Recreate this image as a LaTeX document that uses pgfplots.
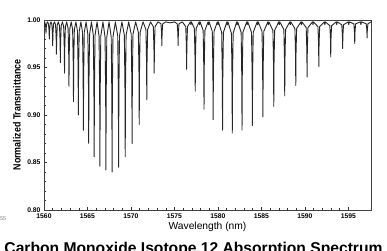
\documentclass[border=0pt]{standalone}
\usepackage{fontspec}
\setmainfont{Liberation Sans}
\usepackage{graphicx}
\usepackage{pgfplots}
\pgfplotsset{compat=1.18}
\begin{document}
\begin{tikzpicture}
\useasboundingbox (0bp,0bp) rectangle (387bp,251bp);
\clip (0bp,0bp) rectangle (387bp,251bp);
\begin{axis}[
  name=ax,
  at={(44bp,41bp)}, anchor=south west,
  scale only axis, width=327bp, height=190bp,
  xmin=1560, xmax=1597.6, ymin=0.80, ymax=1.00,
  xtick={1560,1565,1570,1575,1580,1585,1590,1595},
  ytick={0.80,0.85,0.90,0.95,1.00},
  minor x tick num=4, minor y tick num=4,
  tick align=inside, xtick pos=bottom, ytick pos=left,
  major tick length=3bp, minor tick length=1.6bp,
  axis line style={black!75, line width=0.6pt},
  every tick/.style={black!80, line width=0.5pt},
  /pgf/number format/assume math mode=true,
  x tick label style={/pgf/number format/set thousands separator={}, font=\fontsize{6.8}{7}\selectfont\bfseries},
  y tick label style={/pgf/number format/fixed, /pgf/number format/fixed zerofill, /pgf/number format/precision=2, font=\fontsize{6.8}{7}\selectfont\bfseries},
  xlabel={Wavelength (nm)},
  xlabel style={at={(axis description cs:0.5,-0.1026)}, anchor=base, font=\fontsize{10.3}{12}\selectfont},
  ylabel={\scalebox{0.85}[1]{Normalized Transmittance}},
  ylabel style={at={(axis description cs:-0.0826,0.5)}, anchor=center, font=\fontsize{10.5}{12}\selectfont\bfseries},
]
\addplot[black!85, line width=0.9pt, line join=round] coordinates {
(1560.00,0.993) (1560.05,0.997)
(1560.13,0.997) (1560.20,0.992) (1560.23,0.986) (1560.26,0.992) (1560.33,0.997)
(1560.42,0.998)
(1560.51,0.996) (1560.58,0.989) (1560.61,0.980) (1560.64,0.989) (1560.71,0.996)
(1560.80,0.998)
(1560.90,0.996) (1560.97,0.986) (1561.00,0.973) (1561.03,0.986) (1561.10,0.996)
(1561.21,0.998)
(1561.33,0.995) (1561.40,0.981) (1561.43,0.964) (1561.46,0.981) (1561.53,0.995)
(1561.65,0.998)
(1561.78,0.994) (1561.85,0.977) (1561.88,0.955) (1561.91,0.977) (1561.98,0.994)
(1562.12,0.998)
(1562.26,0.993) (1562.33,0.971) (1562.36,0.944) (1562.39,0.971) (1562.46,0.993)
(1562.61,0.998)
(1562.77,0.991) (1562.84,0.964) (1562.87,0.930) (1562.90,0.964) (1562.97,0.991)
(1563.13,0.998)
(1563.29,0.990) (1563.36,0.956) (1563.39,0.914) (1563.42,0.956) (1563.49,0.990)
(1563.67,0.998)
(1563.85,0.988) (1563.92,0.949) (1563.95,0.900) (1563.98,0.949) (1564.05,0.988)
(1564.24,0.998)
(1564.43,0.987) (1564.50,0.941) (1564.53,0.884) (1564.56,0.941) (1564.63,0.987)
(1564.84,0.998)
(1565.04,0.985) (1565.11,0.934) (1565.14,0.870) (1565.17,0.934) (1565.24,0.985)
(1565.46,0.998)
(1565.67,0.984) (1565.74,0.927) (1565.77,0.856) (1565.80,0.927) (1565.87,0.984)
(1566.10,0.998)
(1566.33,0.983) (1566.40,0.922) (1566.43,0.846) (1566.46,0.922) (1566.53,0.983)
(1566.78,0.998)
(1567.02,0.982) (1567.09,0.920) (1567.12,0.842) (1567.15,0.920) (1567.22,0.982)
(1567.48,0.998)
(1567.73,0.982) (1567.80,0.919) (1567.83,0.840) (1567.86,0.919) (1567.93,0.982)
(1568.21,0.998)
(1568.48,0.983) (1568.55,0.922) (1568.58,0.845) (1568.61,0.922) (1568.68,0.983)
(1568.96,0.998)
(1569.24,0.984) (1569.31,0.927) (1569.34,0.856) (1569.37,0.927) (1569.44,0.984)
(1569.74,0.998)
(1570.03,0.985) (1570.10,0.934) (1570.13,0.870) (1570.16,0.934) (1570.23,0.985)
(1570.54,0.998)
(1570.85,0.987) (1570.92,0.944) (1570.95,0.890) (1570.98,0.944) (1571.05,0.987)
(1571.39,0.998)
(1571.72,0.990) (1571.79,0.957) (1571.82,0.916) (1571.85,0.957) (1571.92,0.990)
(1572.25,0.998)
(1572.57,0.993) (1572.64,0.971) (1572.67,0.944) (1572.70,0.971) (1572.77,0.993)
(1573.11,0.998)
(1573.45,0.996) (1573.52,0.986) (1573.55,0.973) (1573.58,0.986) (1573.65,0.996)
(1574.00,0.998) (1574.50,0.997) (1575.00,0.998)
(1575.32,0.996) (1575.39,0.986) (1575.42,0.973) (1575.45,0.986) (1575.52,0.996)
(1575.91,0.998)
(1576.30,0.993) (1576.37,0.973) (1576.40,0.948) (1576.43,0.973) (1576.50,0.993)
(1576.84,0.998) (1576.90,0.995) (1576.96,0.998)
(1577.29,0.991) (1577.36,0.962) (1577.39,0.925) (1577.42,0.962) (1577.49,0.991)
(1577.84,0.998) (1577.90,0.995) (1577.96,0.998)
(1578.30,0.989) (1578.37,0.952) (1578.40,0.906) (1578.43,0.952) (1578.50,0.989)
(1578.87,0.998) (1578.93,0.995) (1578.99,0.998)
(1579.35,0.988) (1579.42,0.947) (1579.45,0.895) (1579.48,0.947) (1579.55,0.988)
(1579.93,0.998) (1579.99,0.995) (1580.05,0.998)
(1580.43,0.987) (1580.50,0.941) (1580.53,0.884) (1580.56,0.941) (1580.63,0.987)
(1581.03,0.998) (1581.09,0.995) (1581.15,0.998)
(1581.55,0.986) (1581.62,0.940) (1581.65,0.881) (1581.68,0.940) (1581.75,0.986)
(1582.15,0.998) (1582.21,0.995) (1582.27,0.998)
(1582.67,0.987) (1582.74,0.941) (1582.77,0.884) (1582.80,0.941) (1582.87,0.987)
(1583.31,0.998) (1583.37,0.995) (1583.43,0.998)
(1583.86,0.987) (1583.93,0.944) (1583.96,0.889) (1583.99,0.944) (1584.06,0.987)
(1584.51,0.998) (1584.57,0.995) (1584.63,0.998)
(1585.07,0.988) (1585.14,0.948) (1585.17,0.898) (1585.20,0.948) (1585.27,0.988)
(1585.74,0.998) (1585.80,0.995) (1585.86,0.998)
(1586.32,0.989) (1586.39,0.954) (1586.42,0.909) (1586.45,0.954) (1586.52,0.989)
(1586.99,0.998) (1587.05,0.995) (1587.11,0.998)
(1587.58,0.990) (1587.65,0.959) (1587.68,0.920) (1587.71,0.959) (1587.78,0.990)
(1588.26,0.998) (1588.32,0.995) (1588.38,0.998)
(1588.85,0.991) (1588.92,0.965) (1588.95,0.931) (1588.98,0.965) (1589.05,0.991)
(1589.54,0.998) (1589.60,0.995) (1589.66,0.998)
(1590.15,0.992) (1590.22,0.969) (1590.25,0.940) (1590.28,0.969) (1590.35,0.992)
(1590.87,0.998) (1590.93,0.995) (1590.99,0.998)
(1591.50,0.993) (1591.57,0.975) (1591.60,0.951) (1591.63,0.975) (1591.70,0.993)
(1592.23,0.998) (1592.29,0.995) (1592.35,0.998)
(1592.87,0.994) (1592.94,0.980) (1592.97,0.961) (1593.00,0.980) (1593.07,0.994)
(1593.60,0.998) (1593.66,0.995) (1593.72,0.998)
(1594.24,0.995) (1594.31,0.984) (1594.34,0.970) (1594.37,0.984) (1594.44,0.995)
(1594.98,0.998) (1595.04,0.995) (1595.10,0.998)
(1595.63,0.996) (1595.70,0.987) (1595.73,0.975) (1595.76,0.987) (1595.83,0.996)
(1596.38,0.998) (1596.44,0.995) (1596.50,0.998)
(1597.05,0.996) (1597.12,0.990) (1597.15,0.981) (1597.18,0.990) (1597.25,0.996)
(1597.60,0.998)
};
\end{axis}
\node[anchor=base, font=\fontsize{15.7}{18}\selectfont\bfseries, inner sep=0pt] at (193.5bp,-2.7bp) {Carbon Monoxide Isotope 12 Absorption Spectrum};
\node[anchor=base west, font=\fontsize{5.5}{6}\selectfont, text=black!50, inner sep=0pt] at (0bp,31bp) {55};
\end{tikzpicture}
\end{document}
